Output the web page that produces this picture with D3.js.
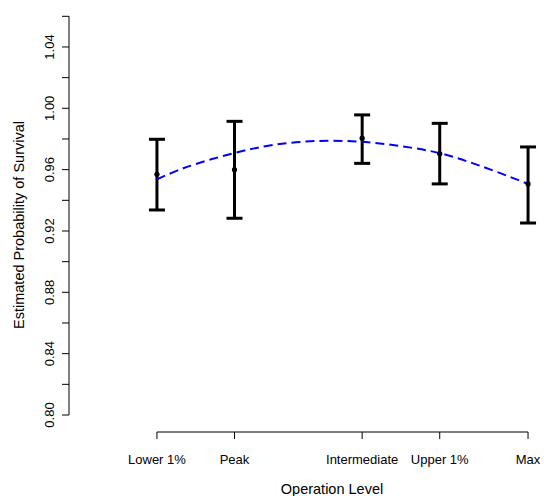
<!DOCTYPE html>
<html>
<head>
<meta charset="utf-8">
<script src="https://cdn.jsdelivr.net/npm/d3@7"></script>
<style>
  html, body { margin: 0; padding: 0; background: #fff; }
  svg { display: block; }
  text { font-family: "Liberation Sans", Arial, Helvetica, sans-serif; fill: #000; }
</style>
</head>
<body>
<svg id="chart" width="544" height="496"></svg>
<script>
// Operation levels (relative position along the operating range, 0 = lowest, 100 = max)
const categories = ["Lower 1%", "Peak", "Intermediate", "Upper 1%", "Max"];
const levels     = [0, 20.9, 55.3, 76.2, 100];

// Estimated survival with confidence limits
const estimates = [0.957, 0.960, 0.9805, 0.9704, 0.9507];
const lowerCI   = [0.9337, 0.9283, 0.9641, 0.9507, 0.9252];
const upperCI   = [0.9798, 0.9915, 0.9957, 0.9902, 0.9748];

// Fitted survival curve across the operating range
const fitLevels = [0, 7.1, 20.6, 31.3, 43.0, 54.7, 65.5, 76.3, 87.8, 100];
const fitValues = [0.9537, 0.9609, 0.9707, 0.9761, 0.9787, 0.9782, 0.9754, 0.9707, 0.9619, 0.9507];

// Y axis ticks
const yTicks      = [0.80, 0.82, 0.84, 0.86, 0.88, 0.90, 0.92, 0.94, 0.96, 0.98, 1.00, 1.02, 1.04, 1.06];
const yTickLabels = [0.80, 0.84, 0.88, 0.92, 0.96, 1.00, 1.04];

const svg = d3.select("#chart");

const x = d3.scaleLinear().domain([-23.7, 104.3]).range([69, 544]);
const y = d3.scaleLinear().domain([0.80, 1.06]).range([415, 16.3]);

// Y axis
const yAxisG = svg.append("g").attr("transform", "translate(69,0)");
yAxisG.append("line")
  .attr("x1", 0).attr("x2", 0)
  .attr("y1", y(yTicks[0])).attr("y2", y(yTicks[yTicks.length - 1]))
  .attr("stroke", "#000").attr("stroke-width", 1);
yAxisG.selectAll("line.tick").data(yTicks).join("line")
  .attr("class", "tick")
  .attr("x1", 0).attr("x2", -7)
  .attr("y1", d => y(d)).attr("y2", d => y(d))
  .attr("stroke", "#000").attr("stroke-width", 1);
svg.selectAll("text.ylab").data(yTickLabels).join("text")
  .attr("class", "ylab")
  .attr("transform", d => `translate(54,${y(d)}) rotate(-90)`)
  .attr("text-anchor", "middle")
  .attr("font-size", 13)
  .text(d => d.toFixed(2));

// X axis
const xAxisG = svg.append("g").attr("transform", "translate(0,432)");
xAxisG.append("line")
  .attr("x1", x(levels[0])).attr("x2", x(levels[levels.length - 1]))
  .attr("y1", 0).attr("y2", 0)
  .attr("stroke", "#000").attr("stroke-width", 1);
xAxisG.selectAll("line.tick").data(levels).join("line")
  .attr("class", "tick")
  .attr("x1", d => x(d)).attr("x2", d => x(d))
  .attr("y1", 0).attr("y2", 7)
  .attr("stroke", "#000").attr("stroke-width", 1);
svg.selectAll("text.xlab").data(categories).join("text")
  .attr("class", "xlab")
  .attr("x", (d, i) => x(levels[i]))
  .attr("y", 464)
  .attr("text-anchor", "middle")
  .attr("font-size", 13)
  .text(d => d);

// Axis titles
svg.append("text")
  .attr("x", 332)
  .attr("y", 494)
  .attr("text-anchor", "middle")
  .attr("font-size", 14.5)
  .text("Operation Level");
svg.append("text")
  .attr("transform", "translate(24,225) rotate(-90)")
  .attr("text-anchor", "middle")
  .attr("font-size", 14.5)
  .text("Estimated Probability of Survival");

// Error bars
const bars = svg.append("g").attr("stroke", "#000").attr("stroke-width", 3);
const idx = d3.range(categories.length);
bars.selectAll("line.bar").data(idx).join("line")
  .attr("class", "bar")
  .attr("x1", i => x(levels[i])).attr("x2", i => x(levels[i]))
  .attr("y1", i => y(lowerCI[i])).attr("y2", i => y(upperCI[i]));
bars.selectAll("line.capTop").data(idx).join("line")
  .attr("class", "capTop")
  .attr("x1", i => x(levels[i]) - 8).attr("x2", i => x(levels[i]) + 8)
  .attr("y1", i => y(upperCI[i])).attr("y2", i => y(upperCI[i]));
bars.selectAll("line.capBot").data(idx).join("line")
  .attr("class", "capBot")
  .attr("x1", i => x(levels[i]) - 8).attr("x2", i => x(levels[i]) + 8)
  .attr("y1", i => y(lowerCI[i])).attr("y2", i => y(lowerCI[i]));

// Fitted curve
const line = d3.line()
  .x((d, i) => x(fitLevels[i]))
  .y(d => y(d))
  .curve(d3.curveCatmullRom);
svg.append("path")
  .datum(fitValues)
  .attr("d", line)
  .attr("fill", "none")
  .attr("stroke", "#0000ff")
  .attr("stroke-width", 2)
  .attr("stroke-dasharray", "9,5");

// Point estimates
svg.selectAll("circle.est").data(idx).join("circle")
  .attr("class", "est")
  .attr("cx", i => x(levels[i]))
  .attr("cy", i => y(estimates[i]))
  .attr("r", 2.6)
  .attr("fill", "#000");
</script>
</body>
</html>
